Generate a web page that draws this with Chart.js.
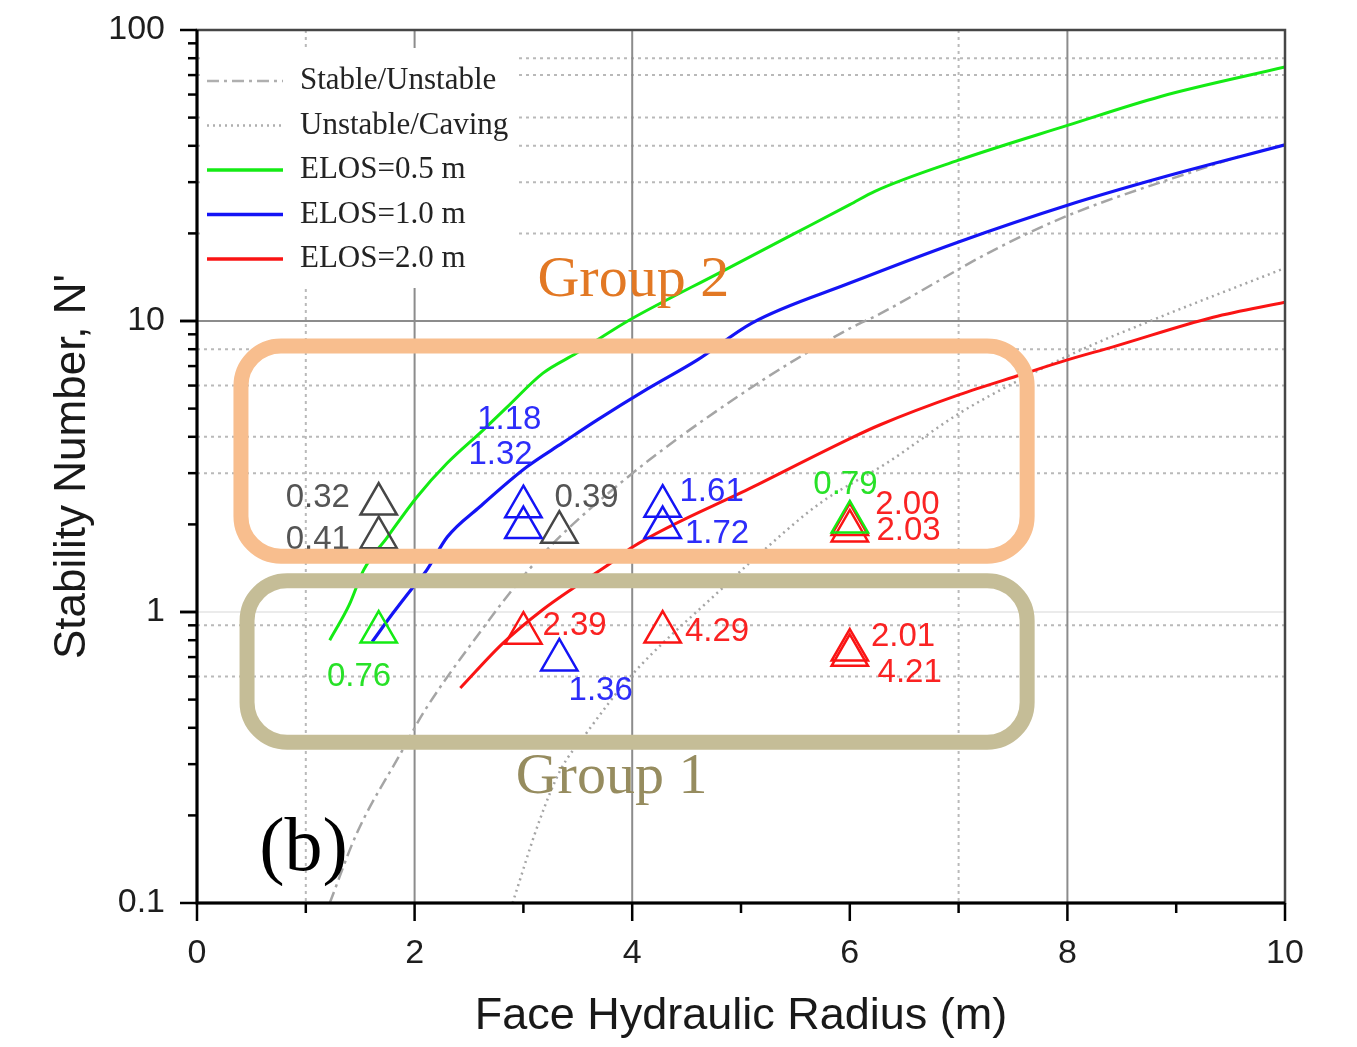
<!DOCTYPE html>
<html>
<head>
<meta charset="utf-8">
<script src="https://cdn.jsdelivr.net/npm/chart.js@4.4.1/dist/chart.umd.min.js"></script>
<style>
  html, body { margin: 0; padding: 0; background: #fff; }
  #wrap { width: 1357px; height: 1047px; position: relative; }
</style>
</head>
<body>
<div id="wrap"><canvas id="chart"></canvas></div>
<script>
// ---------------------------------------------------------------
// data (x = face hydraulic radius, y = N')
// ---------------------------------------------------------------
const elos05X = [1.22, 1.40, 1.53, 1.75, 2.02, 2.30, 2.63, 2.85, 3.18, 3.49, 3.82, 4.00, 4.81, 5.45, 6.00, 6.23, 7.00, 8.00, 8.85, 10.0];
const elos05Y = [0.80, 1.06, 1.39, 1.81, 2.48, 3.25, 4.22, 5.06, 6.62, 7.76, 9.30, 10.2, 14.7, 19.6, 25.1, 27.9, 35.7, 47.0, 59.0, 74.6];

const elos10X = [1.61, 1.80, 1.98, 2.11, 2.30, 2.60, 3.03, 3.36, 3.68, 4.14, 4.60, 5.10, 6.00, 7.00, 8.00, 8.85, 10.0];
const elos10Y = [0.79, 0.99, 1.21, 1.39, 1.81, 2.30, 3.15, 3.81, 4.57, 5.84, 7.35, 9.84, 13.5, 18.7, 25.0, 31.0, 40.3];

const elos20X = [2.42, 2.81, 3.18, 3.46, 3.80, 4.00, 5.11, 6.03, 6.28, 7.00, 7.58, 8.00, 8.42, 9.34, 10.0];
const elos20Y = [0.548, 0.78, 1.02, 1.21, 1.47, 1.67, 2.69, 3.99, 4.40, 5.57, 6.55, 7.35, 8.15, 10.3, 11.6];

const stableX = [1.22, 1.47, 1.89, 2.08, 2.48, 3.13, 3.89, 5.02, 5.97, 6.28, 7.32, 8.00, 9.30, 9.60];
const stableY = [0.10, 0.174, 0.336, 0.45, 0.74, 1.51, 2.77, 5.66, 9.30, 10.6, 17.5, 23.0, 34.0, 37.0];

const cavingX = [2.90, 3.15, 3.34, 3.58, 3.98, 4.81, 5.11, 5.73, 6.34, 7.00, 7.56, 8.12, 8.79, 10.0];
const cavingY = [0.10, 0.193, 0.286, 0.384, 0.598, 1.19, 1.51, 2.37, 3.25, 4.80, 6.27, 7.94, 10.1, 15.2];

// case histories (triangles)
const caseBlackX = [1.67, 1.67, 3.33];
const caseBlackY = [2.35, 1.80, 1.88];
const caseBlueX = [3.00, 3.00, 4.28, 4.28, 3.33];
const caseBlueY = [2.30, 1.95, 2.31, 1.95, 0.684];
const caseGreenX = [6.00, 1.67];
const caseGreenY = [2.04, 0.853];
const caseRedX = [6.00, 6.00, 3.00, 4.28, 6.00, 6.00];
const caseRedY = [2.00, 1.90, 0.846, 0.853, 0.74, 0.71];

// value labels next to the triangles
const noteText = ['0.32', '0.41', '0.39', '1.18', '1.32', '1.61', '1.72', '0.79', '2.00', '2.03', '0.76', '2.39', '1.36', '4.29', '2.01', '4.21'];
const noteX = [1.11, 1.11, 3.58, 2.87, 2.79, 4.73, 4.78, 5.96, 6.53, 6.54, 1.49, 3.47, 3.71, 4.78, 6.49, 6.55];
const noteY = [2.47, 1.77, 2.47, 4.57, 3.47, 2.58, 1.85, 2.73, 2.33, 1.90, 0.599, 0.896, 0.536, 0.853, 0.82, 0.617];
const noteKind = ['k', 'k', 'k', 'b', 'b', 'b', 'b', 'g', 'r', 'r', 'g', 'r', 'b', 'r', 'r', 'r'];

const xTickLabels = [0, 2, 4, 6, 8, 10];
const yTickLabels = [0.1, 1, 10, 100];

const legendNames = ['Stable/Unstable', 'Unstable/Caving', 'ELOS=0.5 m', 'ELOS=1.0 m', 'ELOS=2.0 m'];

// colours
const GREEN = 'rgb(20,235,20)';
const BLUE = 'rgb(20,20,245)';
const RED = 'rgb(250,20,20)';
const GREY_LINE = 'rgb(165,165,165)';
const TEXT_COL = { k: 'rgb(85,85,85)', b: 'rgb(45,45,250)', g: 'rgb(40,225,40)', r: 'rgb(250,35,35)' };

const SANS = '"Liberation Sans", Arial, sans-serif';
const SERIF = '"Liberation Serif", "Times New Roman", serif';

function pts(xs, ys) {
    return xs.map((x, i) => ({ x: x, y: ys[i] }));
}

// ---------------------------------------------------------------
// drawing helpers (grid, frame, ticks, legend, notes, boxes)
// ---------------------------------------------------------------
function hLine(ctx, area, y) {
    ctx.beginPath();
    ctx.moveTo(area.left, y);
    ctx.lineTo(area.right, y);
    ctx.stroke();
}
function vLine(ctx, area, x) {
    ctx.beginPath();
    ctx.moveTo(x, area.top);
    ctx.lineTo(x, area.bottom);
    ctx.stroke();
}

function roundBox(ctx, x0, y0, x1, y1, r) {
    ctx.beginPath();
    ctx.moveTo(x0 + r, y0);
    ctx.lineTo(x1 - r, y0);
    ctx.arcTo(x1, y0, x1, y0 + r, r);
    ctx.lineTo(x1, y1 - r);
    ctx.arcTo(x1, y1, x1 - r, y1, r);
    ctx.lineTo(x0 + r, y1);
    ctx.arcTo(x0, y1, x0, y1 - r, r);
    ctx.lineTo(x0, y0 + r);
    ctx.arcTo(x0, y0, x0 + r, y0, r);
    ctx.closePath();
    ctx.stroke();
}

const backdrop = {
    id: 'backdrop',
    beforeDatasetsDraw(chart) {
        const { ctx, chartArea: a, scales: { x, y } } = chart;
        ctx.save();
        // dotted minor grid
        ctx.strokeStyle = 'rgb(185,185,185)';
        ctx.lineWidth = 2;
        ctx.setLineDash([3, 4]);
        [0.6, 0.9, 3, 4, 6, 8, 20, 30, 40, 50, 70, 80].forEach(v => hLine(ctx, a, y.getPixelForValue(v)));
        [1, 7].forEach(v => vLine(ctx, a, x.getPixelForValue(v)));
        ctx.setLineDash([]);
        // solid grid
        ctx.strokeStyle = 'rgb(228,228,228)';
        ctx.lineWidth = 1.5;
        hLine(ctx, a, y.getPixelForValue(1));
        ctx.strokeStyle = 'rgb(140,140,140)';
        ctx.lineWidth = 2;
        hLine(ctx, a, y.getPixelForValue(10));
        [2, 4, 8].forEach(v => vLine(ctx, a, x.getPixelForValue(v)));

        // legend (white panel over grid)
        const lx = a.left + 4, ly = a.top + 18;
        ctx.fillStyle = '#fff';
        ctx.fillRect(lx, ly, 316, 240);
        const rows = [
            { color: 'rgb(175,175,175)', dash: [12, 5, 3, 5] },
            { color: 'rgb(175,175,175)', dash: [2, 4] },
            { color: GREEN, dash: [] },
            { color: BLUE, dash: [] },
            { color: RED, dash: [] }
        ];
        ctx.font = '31px ' + SERIF;
        ctx.textBaseline = 'middle';
        ctx.textAlign = 'left';
        rows.forEach((r, i) => {
            const ry = a.top + 51 + i * 44.5;
            ctx.strokeStyle = r.color;
            ctx.lineWidth = r.dash.length ? 2.5 : 3.5;
            ctx.setLineDash(r.dash);
            ctx.beginPath();
            ctx.moveTo(a.left + 10, ry);
            ctx.lineTo(a.left + 86, ry);
            ctx.stroke();
            ctx.setLineDash([]);
            ctx.fillStyle = 'rgb(35,35,35)';
            ctx.fillText(legendNames[i], a.left + 103, ry);
        });
        ctx.restore();
    },
    afterDatasetsDraw(chart) {
        const { ctx, chartArea: a, scales: { x, y } } = chart;
        ctx.save();
        // value notes
        ctx.font = '33px ' + SANS;
        ctx.textAlign = 'center';
        ctx.textBaseline = 'middle';
        noteText.forEach((t, i) => {
            ctx.fillStyle = TEXT_COL[noteKind[i]];
            ctx.fillText(t, x.getPixelForValue(noteX[i]), y.getPixelForValue(noteY[i]));
        });

        // group boxes
        const boxes = [
            { x0: 0.404, x1: 7.63, y0: 8.2, y1: 1.556, color: 'rgb(248,190,142)' },
            { x0: 0.46, x1: 7.63, y0: 1.28, y1: 0.357, color: 'rgb(197,189,151)' }
        ];
        ctx.lineWidth = 15;
        boxes.forEach(b => {
            ctx.strokeStyle = b.color;
            roundBox(ctx, x.getPixelForValue(b.x0), y.getPixelForValue(b.y0),
                x.getPixelForValue(b.x1), y.getPixelForValue(b.y1), 40);
        });

        ctx.font = '58px ' + SERIF;
        ctx.fillStyle = 'rgb(226,120,36)';
        ctx.fillText('Group 2', x.getPixelForValue(4.01), y.getPixelForValue(13.8));
        ctx.fillStyle = 'rgb(150,140,95)';
        ctx.fillText('Group 1', x.getPixelForValue(3.81), y.getPixelForValue(0.269));
        ctx.font = '76px ' + SERIF;
        ctx.fillStyle = '#000';
        ctx.fillText('(b)', x.getPixelForValue(0.98), y.getPixelForValue(0.152));

        // frame
        ctx.strokeStyle = 'rgb(70,70,70)';
        ctx.lineWidth = 2.5;
        ctx.strokeRect(a.left, a.top, a.right - a.left, a.bottom - a.top);
        ctx.strokeStyle = '#000';
        ctx.lineWidth = 3;
        ctx.beginPath();
        ctx.moveTo(a.left, a.top);
        ctx.lineTo(a.left, a.bottom);
        ctx.lineTo(a.right, a.bottom);
        ctx.stroke();

        // tick marks
        ctx.lineWidth = 2.5;
        for (let v = 0; v <= 10; v++) {
            const px = x.getPixelForValue(v);
            const len = v % 2 === 0 ? 18 : 10;
            ctx.beginPath();
            ctx.moveTo(px, a.bottom);
            ctx.lineTo(px, a.bottom + len);
            ctx.stroke();
        }
        [0.1, 1, 10].forEach(dec => {
            for (let m = 1; m <= 10; m++) {
                const py = y.getPixelForValue(m * dec);
                const len = (m === 1 || m === 10) ? 17 : 9;
                ctx.beginPath();
                ctx.moveTo(a.left, py);
                ctx.lineTo(a.left - len, py);
                ctx.stroke();
            }
        });
        ctx.restore();
    }
};

// ---------------------------------------------------------------
// chart
// ---------------------------------------------------------------
const curveStyle = { pointRadius: 0, fill: false, cubicInterpolationMode: 'monotone' };
const triStyle = { showLine: false, pointStyle: 'triangle', pointRadius: 21, pointBorderWidth: 2.5, pointBackgroundColor: 'rgba(0,0,0,0)' };

new Chart(document.getElementById('chart'), {
    type: 'scatter',
    data: {
        datasets: [
            { ...triStyle, label: 'green cases', data: pts(caseGreenX, caseGreenY), pointBorderColor: GREEN },
            { ...triStyle, label: 'red cases', data: pts(caseRedX, caseRedY), pointBorderColor: RED },
            { ...triStyle, label: 'blue cases', data: pts(caseBlueX, caseBlueY), pointBorderColor: BLUE },
            { ...triStyle, label: 'grey cases', data: pts(caseBlackX, caseBlackY), pointBorderColor: 'rgb(70,70,70)' },
            { ...curveStyle, type: 'line', label: 'ELOS=0.5 m', data: pts(elos05X, elos05Y), borderColor: GREEN, borderWidth: 3 },
            { ...curveStyle, type: 'line', label: 'ELOS=1.0 m', data: pts(elos10X, elos10Y), borderColor: BLUE, borderWidth: 3.2 },
            { ...curveStyle, type: 'line', label: 'ELOS=2.0 m', data: pts(elos20X, elos20Y), borderColor: RED, borderWidth: 3 },
            { ...curveStyle, type: 'line', label: 'Stable/Unstable', data: pts(stableX, stableY), borderColor: GREY_LINE, borderWidth: 2.5, borderDash: [12, 5, 3, 5] },
            { ...curveStyle, type: 'line', label: 'Unstable/Caving', data: pts(cavingX, cavingY), borderColor: GREY_LINE, borderWidth: 2.5, borderDash: [2, 4] }
        ]
    },
    options: {
        responsive: true,
        maintainAspectRatio: false,
        animation: false,
        layout: { padding: { top: 30, right: 72, bottom: 0, left: 0 } },
        plugins: { legend: { display: false }, tooltip: { enabled: false } },
        scales: {
            x: {
                type: 'linear',
                min: 0,
                max: 10,
                afterFit: s => { s.height = 144; s.paddingLeft = 0; s.paddingRight = 0; },
                grid: { display: false, drawTicks: true, tickLength: 18 },
                border: { display: false },
                ticks: {
                    stepSize: 1,
                    autoSkip: false,
                    maxRotation: 0,
                    padding: 12,
                    color: 'rgb(30,30,30)',
                    font: { family: SANS, size: 34 },
                    callback: v => xTickLabels.includes(v) ? String(v) : ''
                },
                title: {
                    display: true,
                    text: 'Face Hydraulic Radius (m)',
                    color: 'rgb(25,25,25)',
                    font: { family: SANS, size: 45 },
                    padding: { top: 0, bottom: 3 }
                }
            },
            y: {
                type: 'logarithmic',
                min: 0.1,
                max: 100,
                afterFit: s => { s.width = 197; s.paddingTop = 0; s.paddingBottom = 0; },
                grid: { display: false, drawTicks: true, tickLength: 17 },
                border: { display: false },
                ticks: {
                    autoSkip: false,
                    padding: 15,
                    color: 'rgb(30,30,30)',
                    font: { family: SANS, size: 34 },
                    callback: v => yTickLabels.some(t => Math.abs(t - v) < 1e-9) ? String(v) : ''
                },
                title: {
                    display: true,
                    text: "Stability Number, N'",
                    color: 'rgb(25,25,25)',
                    font: { family: SANS, size: 44 },
                    padding: { top: 46, bottom: 0 }
                }
            }
        }
    },
    plugins: [backdrop]
});
</script>
</body>
</html>
